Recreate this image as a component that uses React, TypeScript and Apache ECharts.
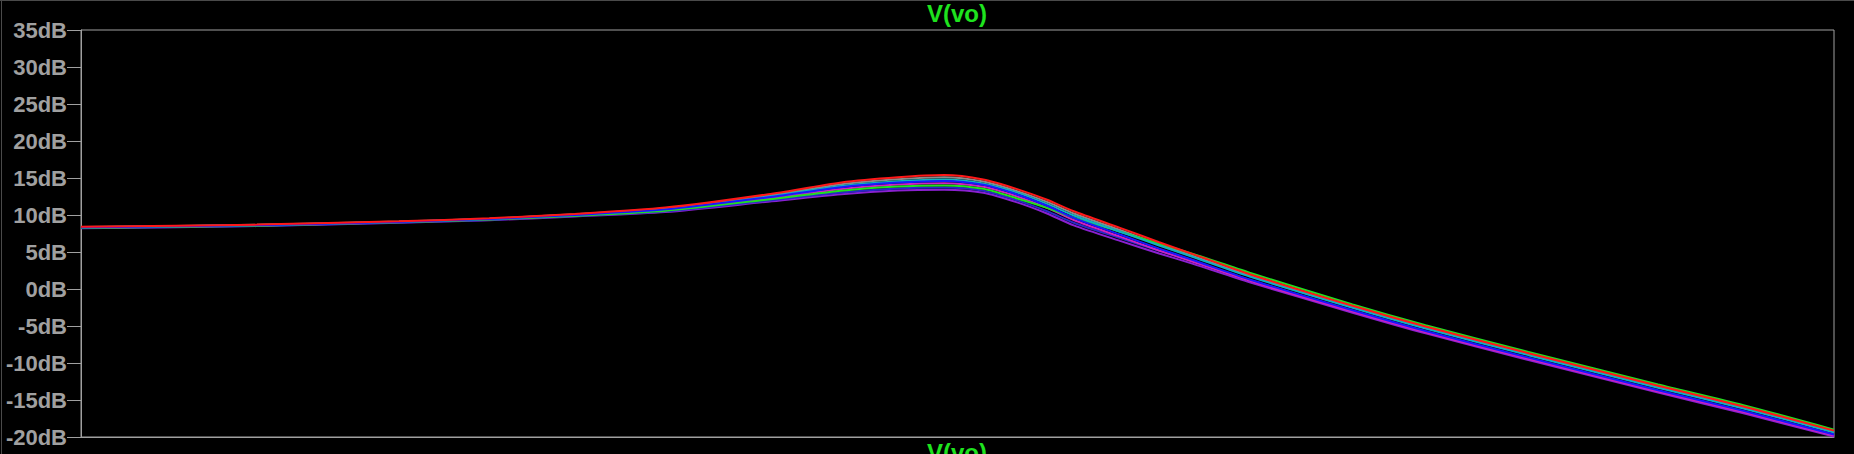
import React, { useEffect, useRef } from 'react'
import * as echarts from 'echarts'

// frequency points (Hz) on a log axis, 3 decades
const FREQS = [10, 20, 35, 50, 70, 100, 150, 200, 250, 300, 350, 400, 450, 500, 600, 700, 800, 1000, 1500, 2000, 3000, 5000, 7000, 10000]

// magnitude of V(vo) in dB for each Monte Carlo run
const RUN_RED = [8.4, 8.7, 9.15, 9.55, 10.15, 11.0, 12.8, 14.4, 15.1, 15.4, 14.8, 13.5, 12.06, 10.5, 8.26, 6.32, 4.71, 2.0, -2.27, -5.07, -8.67, -13.07, -15.87, -19.14]
const RUN_GREEN = [8.26, 8.56, 9.01, 9.38, 9.9, 10.58, 12.1, 13.28, 13.84, 14.0, 13.54, 12.24, 10.97, 9.62, 7.74, 6.14, 4.74, 2.2, -2.1, -4.9, -8.5, -12.9, -15.7, -19.0]
const RUN_BLUE = [8.32, 8.62, 9.07, 9.45, 10.01, 10.76, 12.4, 13.76, 14.38, 14.6, 14.08, 12.78, 11.25, 9.62, 7.36, 5.46, 3.92, 1.29, -2.87, -5.67, -9.27, -13.67, -16.47, -19.67]
const RUN_TEAL = [8.34, 8.64, 9.09, 9.48, 10.05, 10.82, 12.5, 13.92, 14.56, 14.8, 14.26, 13.02, 11.5, 9.94, 7.74, 5.87, 4.32, 1.68, -2.54, -5.34, -8.94, -13.34, -16.14, -19.38]
const RUN_MAGENTA = [8.29, 8.59, 9.04, 9.41, 9.96, 10.67, 12.25, 13.52, 14.11, 14.3, 13.81, 12.51, 10.97, 9.32, 7.07, 5.21, 3.69, 1.1, -3.04, -5.84, -9.44, -13.84, -16.64, -19.81]
const RUN_PURPLE = [8.2, 8.5, 8.95, 9.3, 9.8, 10.4, 11.8, 12.8, 13.3, 13.4, 13.0, 11.7, 10.2, 8.6, 6.5, 4.8, 3.4, 0.9, -3.2, -6.0, -9.6, -14.0, -16.8, -19.95]
const RUN_NAVY = [8.23, 8.53, 8.98, 9.34, 9.85, 10.49, 11.95, 13.04, 13.57, 13.7, 13.27, 11.97, 10.51, 8.96, 6.88, 5.17, 3.75, 1.22, -2.93, -5.73, -9.33, -13.73, -16.53, -19.71]
const RUN_GRAY = [8.37, 8.67, 9.12, 9.51, 10.1, 10.91, 12.65, 14.16, 14.83, 15.1, 14.53, 13.23, 11.77, 10.21, 7.97, 6.07, 4.48, 1.81, -2.43, -5.23, -8.83, -13.23, -16.03, -19.29]

const RUNS = [
  { data: RUN_GRAY, color: '#8a8a8a' },
  { data: RUN_PURPLE, color: '#8a20d0' },
  { data: RUN_NAVY, color: '#2828c8' },
  { data: RUN_MAGENTA, color: '#d020c0' },
  { data: RUN_GREEN, color: '#20e020' },
  { data: RUN_TEAL, color: '#10b0c0' },
  { data: RUN_BLUE, color: '#1818ff' },
  { data: RUN_RED, color: '#ff1818' },
]

const Y_MIN = -20
const Y_MAX = 35
const Y_STEP = 5

const FRAME = '#a0a0a0'
const TRACE_NAME = 'V(vo)'
const FONT = '"Liberation Sans", Arial, sans-serif'

const App = () => {
  const chartRef = useRef<HTMLDivElement>(null)

  useEffect(() => {
    if (!chartRef.current) return
    const chart = echarts.init(chartRef.current, undefined, { renderer: 'svg' })

    const option = {
      animation: false,
      backgroundColor: '#000',
      grid: {
        left: 81,
        right: 20,
        top: 30,
        bottom: 17,
        show: true,
        borderColor: FRAME,
        borderWidth: 1,
        outerBoundsMode: 'none',
      },
      xAxis: {
        type: 'log',
        logBase: 10,
        min: 10,
        max: 10000,
        axisLine: { show: true, onZero: false, lineStyle: { color: FRAME, width: 1 } },
        axisTick: { show: false },
        axisLabel: { show: false },
        splitLine: { show: false },
        minorTick: { show: false },
      },
      yAxis: {
        type: 'value',
        min: Y_MIN,
        max: Y_MAX,
        interval: Y_STEP,
        axisLine: { show: true, lineStyle: { color: FRAME, width: 1 } },
        axisTick: { show: true, length: 14, lineStyle: { color: FRAME, width: 1 } },
        axisLabel: {
          margin: 14,
          color: FRAME,
          fontSize: 22,
          fontWeight: 'bold',
          fontFamily: FONT,
          formatter: (v: number) => `${v}dB`,
        },
        splitLine: { show: false },
      },
      graphic: [
        { type: 'line', shape: { x1: 0, y1: 0.5, x2: 1854, y2: 0.5 }, style: { stroke: '#4a4a4a', lineWidth: 1 } },
        { type: 'line', shape: { x1: 1.5, y1: 0, x2: 1.5, y2: 454 }, style: { stroke: '#4a4a4a', lineWidth: 1 } },
        {
          type: 'text',
          x: 957,
          y: 1,
          style: {
            text: TRACE_NAME,
            fill: '#1ee31e',
            font: `bold 24px ${FONT}`,
            textAlign: 'center',
            textVerticalAlign: 'top',
          },
        },
        {
          type: 'text',
          x: 957,
          y: 440,
          style: {
            text: TRACE_NAME,
            fill: '#1ee31e',
            font: `bold 24px ${FONT}`,
            textAlign: 'center',
            textVerticalAlign: 'top',
          },
        },
      ],
      series: RUNS.map((run) => ({
        type: 'line',
        name: TRACE_NAME,
        data: FREQS.map((f, i) => [f, run.data[i]]),
        showSymbol: false,
        smooth: 0.25,
        lineStyle: { color: run.color, width: 2 },
        itemStyle: { color: run.color },
      })),
    }

    chart.setOption(option)
    return () => {
      chart.dispose()
    }
  }, [])

  return (
    <div
      ref={chartRef}
      style={{ position: 'fixed', left: 0, top: 0, width: 1854, height: 454, background: '#000' }}
    />
  )
}

export default App
